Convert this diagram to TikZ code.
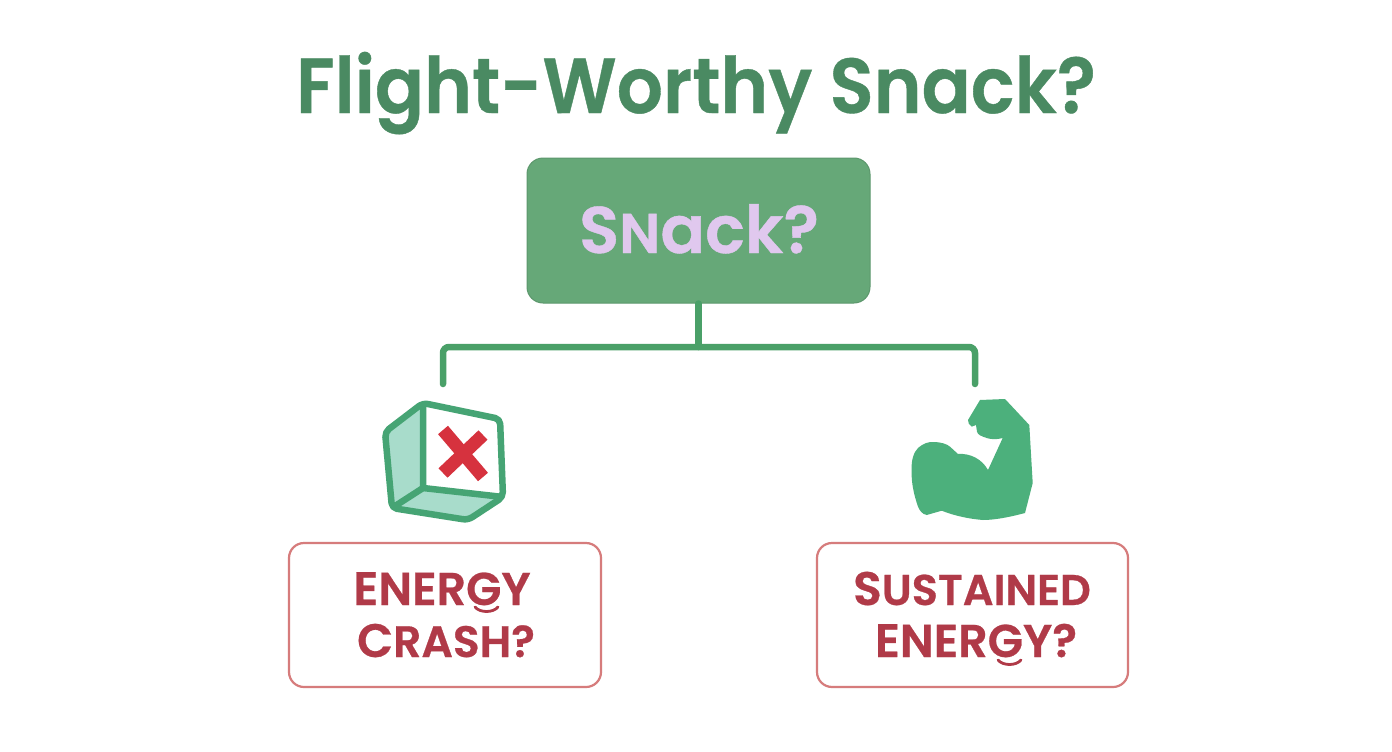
\documentclass[tikz,border=0pt]{standalone}
\usepackage{fontspec}
\setmainfont{Poppins}
\newfontfamily\titlefont[FakeStretch=0.93,FakeBold=0.5]{Poppins SemiBold}
\newfontfamily\labelfont[FakeBold=0.6]{Poppins SemiBold}
\usetikzlibrary{calc}
\definecolor{titlegreen}{HTML}{4A8A62}
\definecolor{boxgreen}{HTML}{66A878}
\definecolor{linegreen}{HTML}{4AA068}
\definecolor{iconline}{HTML}{46A474}
\definecolor{iconfill}{HTML}{A8DCCB}
\definecolor{armgreen}{HTML}{4CB07C}
\definecolor{lilac}{HTML}{E0C8EE}
\definecolor{redtext}{HTML}{B03A48}
\definecolor{redborder}{HTML}{D67C7C}
\definecolor{crossred}{HTML}{D6323E}
\newcommand{\capsmall}[2]{{\fontsize{#1}{#1}\selectfont #2}}
\tikzset{
  titletext/.style={text=titlegreen,font=\titlefont\fontsize{78}{78}\selectfont,inner sep=0pt},
  mainbox/.style={fill=boxgreen,draw=boxgreen!90!black,line width=1pt,rounded corners=16pt,minimum width=343pt,minimum height=145pt,inner sep=0pt},
  maintext/.style={text=lilac,inner sep=0pt,font=\labelfont\fontsize{66}{66}\selectfont},
  outbox/.style={draw=redborder,line width=2.2pt,fill=white,rounded corners=15pt,minimum height=144pt,inner sep=0pt},
  outtext/.style={text=redtext,inner sep=0pt,font=\labelfont\fontsize{47}{47}\selectfont},
  branch/.style={draw=linegreen,line width=6.5pt,line cap=round,rounded corners=6pt},
  cubeline/.style={draw=iconline,line width=6.5pt,line join=round},
  crossbar/.style={draw=crossred,line width=13pt},
  swash/.style={draw=redtext,line width=2.8pt,line cap=round}
}
\begin{document}
\begin{tikzpicture}[x=1pt,y=-1pt]
\useasboundingbox (0,0) rectangle (1392,752);
\fill[white] (0,0) rectangle (1392,752);
\node[titletext,anchor=base] (title) at (696,113) {Flight-Worthy Snack?};
\node[mainbox] (snack) at (698.5,230.5) {};
\node[maintext,anchor=base] (snacktext) at (699,253) {S\capsmall{56}{N}ack?};
\node[outbox,minimum width=312pt] (crash) at (445,615) {};
\node[outbox,minimum width=311pt] (sustained) at (972.5,615) {};
\node[outtext,anchor=base] (crashone) at (442,605) {E\capsmall{46}{NERGY}};
\node[outtext,anchor=base] (crashtwo) at (446,657) {C\capsmall{44}{RASH?}};
\node[outtext,anchor=base] (sustone) at (972,605) {S\capsmall{43}{USTAINED}};
\node[outtext,anchor=base] (susttwo) at (976,657) {E\capsmall{46}{NERGY?}};
\coordinate (junction) at (698.5,347);
\coordinate (leftend) at (443,384);
\coordinate (rightend) at (975,384);
\draw[branch] (snack.south) -- (junction);
\draw[branch] (leftend) |- (rightend |- junction) -- (rightend);
% cube icon
\fill[iconfill] (385,432) -- (423,403) -- (423,488) -- (392,508) -- cycle;
\fill[iconfill] (423,488) -- (503,497) -- (468,520) -- (392,508) -- cycle;
\draw[cubeline,rounded corners=5pt] (385,432) -- (423,403) -- (500,419) -- (503,497) -- (468,520) -- (392,508) -- cycle;
\draw[cubeline] (423,403) -- (423,488) -- (503,497);
\draw[cubeline] (423,488) -- (392,508);
\draw[crossbar] (443,430) -- (483,477);
\draw[crossbar] (483,435) -- (443,473);
% flexed arm icon
\fill[armgreen] (980,400) -- (1005,399) -- (1029.3,425) -- (1032.7,483) -- (1025,513)
  .. controls (1010,517) and (995,520) .. (983,520)
  .. controls (970,519) and (955,516) .. (941.7,510.7)
  -- (926.7,515)
  .. controls (922,514) and (920,511) .. (918,506.7)
  .. controls (914,495) and (911,482) .. (911.7,470)
  .. controls (911,460) and (914,452) .. (918,448)
  .. controls (924,443) and (928,442) .. (933,442)
  .. controls (941,442) and (947,444) .. (950,446.7)
  -- (958,454)
  .. controls (970,453) and (982,459) .. (988,470)
  -- (1002.7,438)
  .. controls (995,440) and (990,439) .. (986.7,438)
  .. controls (981,436) and (978,435) .. (977,431.7)
  -- (976,425) -- (971.7,426.7)
  .. controls (969,425) and (968,423) .. (968,420)
  -- cycle;
% swash marks of the letter G
\coordinate (swashA) at ($(crash.center)+(30,-8)$);
\coordinate (swashB) at ($(sustained.center)+(25.5,45)$);
\draw[swash] (swashA) .. controls +(5,6) and +(-5,6) .. +(23,0);
\draw[swash] (swashB) .. controls +(5,6) and +(-5,6) .. +(23,0);
\end{tikzpicture}
\end{document}
